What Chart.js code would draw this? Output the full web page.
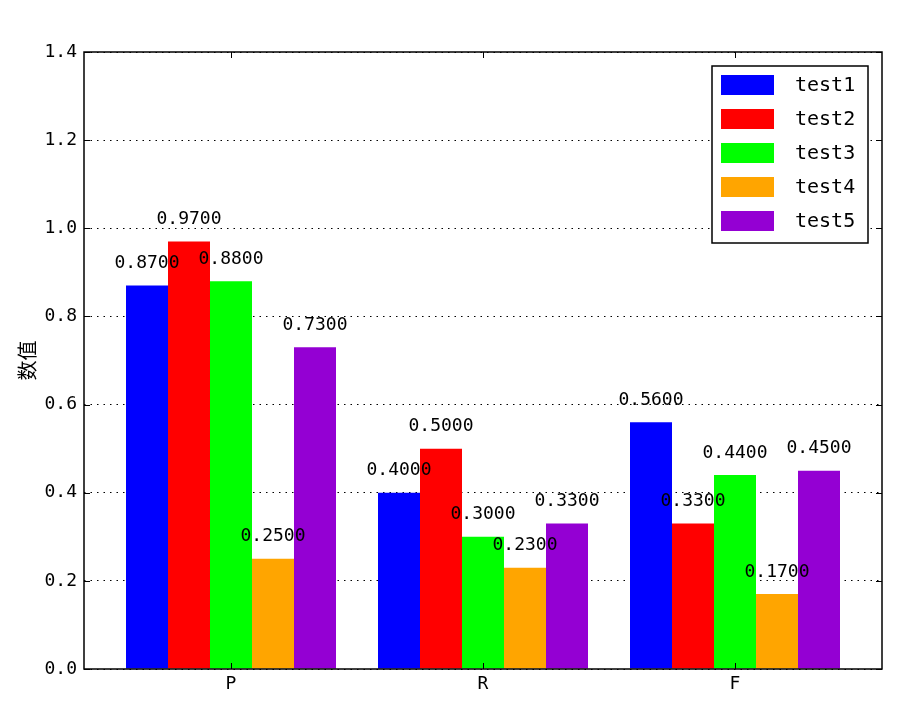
<!DOCTYPE html>
<html><head><meta charset="utf-8">
<script src="https://cdn.jsdelivr.net/npm/chart.js@4/dist/chart.umd.min.js"></script>
<style>html,body{margin:0;padding:0;background:#fff}#wrap{width:914px;height:728px}</style>
</head><body><div id="wrap"><canvas id="c" width="914" height="728"></canvas></div>
<script>
const categories = ['P', 'R', 'F'];
const seriesNames = ['test1', 'test2', 'test3', 'test4', 'test5'];
const test1 = [0.87, 0.40, 0.56];
const test2 = [0.97, 0.50, 0.33];
const test3 = [0.88, 0.30, 0.44];
const test4 = [0.25, 0.23, 0.17];
const test5 = [0.73, 0.33, 0.45];
const yTicks = [0.0, 0.2, 0.4, 0.6, 0.8, 1.0, 1.2, 1.4];
const colors = ['#0000ff', '#ff0000', '#00ff00', '#ffa500', '#9400d3'];
const seriesValues = [test1, test2, test3, test4, test5];

const MONO = '"DejaVu Sans Mono", "Liberation Mono", monospace';

const datasets = seriesValues.map((vals, i) => ({
  label: seriesNames[i],
  data: vals.map((v, j) => ({x: j, y: v})),
  backgroundColor: colors[i],
  borderWidth: 0,
  barPercentage: 1.0,
  categoryPercentage: 5 / 6
}));

const decor = {
  id: 'decor',
  afterDatasetsDraw(chart) {
    const ctx = chart.ctx;
    ctx.save();
    ctx.fillStyle = '#000';
    ctx.font = '18px ' + MONO;
    ctx.textAlign = 'center';
    ctx.textBaseline = 'middle';
    chart.data.datasets.forEach((ds, i) => {
      const meta = chart.getDatasetMeta(i);
      meta.data.forEach((bar, j) => {
        ctx.fillText(ds.data[j].y.toFixed(4), bar.x, bar.y - 22);
      });
    });
    const lx = 712, ly = 66, lw = 156, lh = 177;
    ctx.fillStyle = '#fff';
    ctx.fillRect(lx, ly, lw, lh);
    ctx.lineWidth = 1.5;
    ctx.strokeStyle = '#000';
    ctx.strokeRect(lx, ly, lw, lh);
    ctx.font = '20px ' + MONO;
    ctx.textAlign = 'left';
    chart.data.datasets.forEach((ds, i) => {
      const cy = 85 + i * 34;
      ctx.fillStyle = ds.backgroundColor;
      ctx.fillRect(721, cy - 10, 53, 20);
      ctx.fillStyle = '#000';
      ctx.fillText(ds.label, 795, cy + 1);
    });
    ctx.restore();
  },
  afterDraw(chart) {
    const ctx = chart.ctx;
    const a = chart.chartArea;
    const xs = chart.scales.x, ys = chart.scales.y;
    ctx.save();
    ctx.strokeStyle = '#000';
    ctx.lineWidth = 1;
    ctx.beginPath();
    yTicks.forEach(v => {
      const y = Math.round(ys.getPixelForValue(v)) + 0.5;
      ctx.moveTo(a.left, y); ctx.lineTo(a.left + 6, y);
      ctx.moveTo(a.right, y); ctx.lineTo(a.right - 6, y);
    });
    categories.forEach((c, j) => {
      const x = Math.round(xs.getPixelForValue(j)) + 0.5;
      ctx.moveTo(x, a.bottom); ctx.lineTo(x, a.bottom - 6);
      ctx.moveTo(x, a.top); ctx.lineTo(x, a.top + 6);
    });
    ctx.stroke();
    ctx.lineWidth = 1.5;
    ctx.strokeRect(a.left, a.top, a.right - a.left, a.bottom - a.top);
    ctx.restore();
  }
};

new Chart(document.getElementById('c'), {
  type: 'bar',
  data: {datasets},
  options: {
    responsive: false,
    animation: false,
    layout: {padding: {left: 0, right: 32, top: 52, bottom: 0}},
    plugins: {legend: {display: false}, tooltip: {enabled: false}},
    scales: {
      x: {
        type: 'linear',
        offset: false,
        min: -7 / 12,
        max: categories.length - 1 + 7 / 12,
        grid: {display: false, drawTicks: false, offset: false},
        border: {display: false},
        afterBuildTicks: s => { s.ticks = categories.map((c, i) => ({value: i})); },
        afterFit: s => { s.height = 59; },
        ticks: {
          callback: v => categories[v],
          color: '#000',
          font: {family: MONO, size: 18},
          padding: 5,
          maxRotation: 0
        }
      },
      y: {
        min: 0,
        max: 1.4,
        z: 1,
        afterBuildTicks: s => { s.ticks = yTicks.map(v => ({value: v})); },
        afterFit: s => { s.width = 84; },
        grid: {color: '#000', lineWidth: 1, drawTicks: false},
        border: {display: false, dash: [1.5, 5]},
        ticks: {
          callback: v => v.toFixed(1),
          color: '#000',
          font: {family: MONO, size: 18},
          padding: 7
        },
        title: {
          display: true,
          text: '数值',
          color: '#000',
          font: {family: '"Noto Sans CJK SC", sans-serif', size: 20},
          padding: {top: 15, bottom: 0}
        }
      }
    }
  },
  plugins: [decor]
});
</script>
</body></html>
